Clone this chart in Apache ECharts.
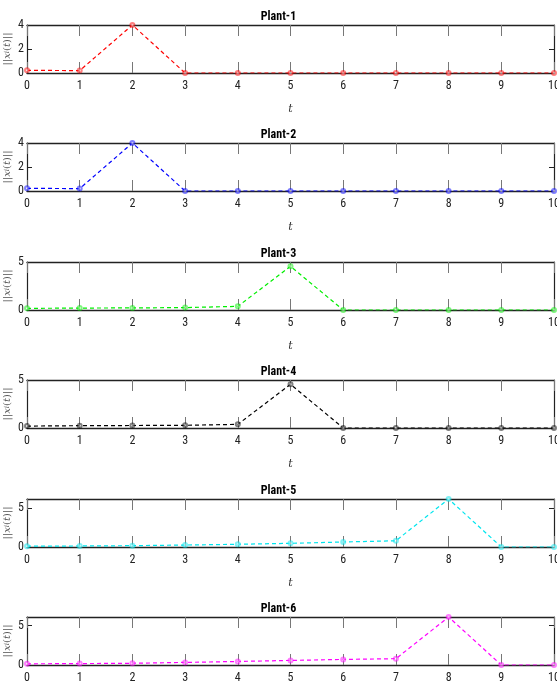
<!DOCTYPE html>
<html>
<head>
<meta charset="utf-8">
<script src="https://cdn.jsdelivr.net/npm/echarts@6/dist/echarts.min.js"></script>
<style>html,body{margin:0;padding:0;background:#fff}#c{width:557px;height:694px}</style>
</head>
<body>
<div id="c"></div>
<script>
const tValues = [0,1,2,3,4,5,6,7,8,9,10];
const xTickLabels = ['0','1','2','3','4','5','6','7','8','9','10'];
const plantNames = ['Plant-1','Plant-2','Plant-3','Plant-4','Plant-5','Plant-6'];
const plant1 = [0.22,0.2,4.0,0,0,0,0,0,0,0,0];
const plant2 = [0.22,0.2,4.0,0,0,0,0,0,0,0,0];
const plant3 = [0.17,0.2,0.22,0.25,0.38,4.55,0,0,0,0,0];
const plant4 = [0.2,0.24,0.26,0.28,0.38,4.55,0,0,0,0,0];
const plant5 = [0.1,0.13,0.17,0.25,0.35,0.47,0.64,0.8,6.15,0,0];
const plant6 = [0.15,0.18,0.22,0.33,0.45,0.58,0.71,0.8,6.1,0,0];
const yMaxes = [4,4,5,5,6.15,6.1];
const yIntervals = [2,2,5,5,5,5];
const colors = ['#ff0000','#0000ff','#00ee00','#000000','#00e5ee','#ff00ff'];
const seriesData = [plant1,plant2,plant3,plant4,plant5,plant6];

const FONT = "'Liberation Sans Narrow','Roboto Condensed','DejaVu Sans Condensed',Arial,sans-serif";
const tops = [25,143,262,380,499,617];
const H = 48;

const grid=[], xAxis=[], yAxis=[], series=[], title=[];
for (let i=0;i<6;i++){
  grid.push({left:27, right:3, top:tops[i], height:H, containLabel:false, outerBoundsMode:'none'});
  title.push({text:plantNames[i], left:'center', top:tops[i]-19,
    textStyle:{fontFamily:FONT, fontWeight:'bold', fontSize:12, color:'#000'}});
  const xBase = {type:'value', gridIndex:i, min:0, max:10, interval:1, splitLine:{show:false}};
  xAxis.push(Object.assign({}, xBase, {
    position:'bottom',
    axisLine:{show:true, onZero:false, lineStyle:{color:'#222', width:1.4}},
    axisTick:{show:true, inside:true, length:11, lineStyle:{color:'#777', width:1}},
    axisLabel:{show:true, margin:7, fontFamily:FONT, fontSize:12, color:'#222',
      formatter:(v)=>xTickLabels[Math.round(v)]},
    name:'t', nameLocation:'middle', nameGap:31,
    nameTextStyle:{fontFamily:"'DejaVu Serif',serif", fontStyle:'italic', fontSize:11, color:'#333'}
  }));
  xAxis.push(Object.assign({}, xBase, {
    position:'top',
    axisLine:{show:true, onZero:false, lineStyle:{color:'#222', width:1.4}},
    axisTick:{show:true, inside:true, length:11, lineStyle:{color:'#777', width:1}},
    axisLabel:{show:false}
  }));
  const yBase = {type:'value', gridIndex:i, min:0, max:yMaxes[i], interval:yIntervals[i], splitLine:{show:false}};
  const showMax = (yMaxes[i] % yIntervals[i]) === 0;
  yAxis.push(Object.assign({}, yBase, {
    position:'left',
    axisLine:{show:true, onZero:false, lineStyle:{color:'#222', width:1.2}},
    axisTick:{show:true, inside:true, length:5, lineStyle:{color:'#222', width:1}},
    axisLabel:{show:true, margin:3, fontFamily:FONT, fontSize:12, color:'#222', showMaxLabel:showMax,
      formatter:(v)=> (Math.abs(v % yIntervals[i])<1e-9 ? String(v) : '')},
    name:'{b|||}{x|x}{s|i}{b|(}{x|t}{b|)||}', nameLocation:'middle', nameGap:15, nameRotate:90,
    nameMoveOverlap:false,
    nameTextStyle:{fontSize:10, color:'#333', rich:{
      b:{fontFamily:"'DejaVu Serif',serif", fontSize:10, color:'#555'},
      x:{fontFamily:"'DejaVu Serif',serif", fontStyle:'italic', fontSize:10, color:'#555'},
      s:{fontFamily:"'DejaVu Serif',serif", fontStyle:'italic', fontSize:7, color:'#555'}
    }}
  }));
  yAxis.push(Object.assign({}, yBase, {
    position:'right',
    axisLine:{show:true, onZero:false, lineStyle:{color:'#222', width:1.2}},
    axisTick:{show:true, inside:true, length:5, lineStyle:{color:'#222', width:1}},
    axisLabel:{show:false}
  }));
  series.push({
    type:'line', xAxisIndex:2*i, yAxisIndex:2*i,
    data: tValues.map((t,k)=>[t, seriesData[i][k]]),
    symbol:'emptyCircle', symbolSize:4, showSymbol:true,
    lineStyle:{color:colors[i], width:1.2, type:[4,3]},
    itemStyle:{color:colors[i], borderColor:colors[i], borderWidth:0.7, opacity:0.5},
    animation:false, z:3
  });
}

const chart = echarts.init(document.getElementById('c'), null, {renderer:'canvas'});
chart.setOption({backgroundColor:'#fff', animation:false, title, grid, xAxis, yAxis, series});
</script>
</body>
</html>
